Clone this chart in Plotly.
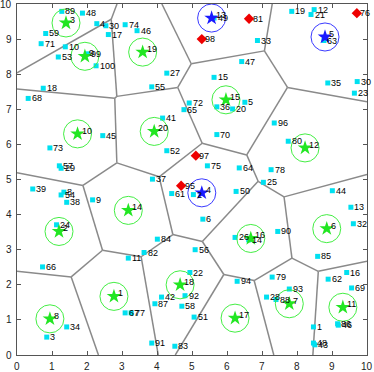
import numpy as np
import plotly.graph_objects as go

# ---------------- data ----------------
# cluster centres (green stars) and highlighted centres (blue stars)
green_labels = ["3", "9", "19", "15", "10", "20", "12", "14", "2", "16", "6", "18", "1", "8", "17", "7", "11"]
green_x = [1.40, 1.94, 3.59, 5.97, 1.73, 3.92, 8.23, 3.18, 1.20, 6.68, 8.85, 4.66, 2.77, 0.94, 6.23, 7.78, 9.31]
green_y = [9.46, 8.51, 8.63, 7.27, 6.30, 6.37, 5.90, 4.12, 3.52, 3.32, 3.60, 2.00, 1.67, 1.03, 1.05, 1.46, 1.36]

blue_labels = ["13", "4", "5"]
blue_x = [5.56, 5.28, 8.80]
blue_y = [9.60, 4.62, 9.06]

# data points (cyan squares)
pt_labels = ["89", "48", "59", "71", "10", "53", "99", "100", "18", "68",
             "4", "30", "17", "74", "46", "27", "55", "49", "47", "15",
             "72", "65", "36", "20", "5", "41", "19", "12", "21", "33",
             "63", "35", "30", "23", "96", "45", "73", "57", "29", "39",
             "8", "54", "38", "9", "24", "70", "52", "75", "64", "37",
             "61", "2", "50", "6", "84", "26", "14", "90", "80", "78",
             "25", "44", "13", "32", "66", "11", "34", "3", "67", "77",
             "82", "56", "22", "92", "42", "87", "58", "51", "91", "83",
             "94", "85", "79", "16", "62", "69", "93", "28", "88", "86",
             "46", "1", "48", "43"]
pt_x = [1.28, 1.87, 0.82, 0.69, 1.38, 1.18, 2.01, 2.26, 0.75, 0.32,
        2.28, 2.54, 2.61, 3.09, 3.43, 4.28, 3.85, 5.63, 6.42, 5.63,
        4.92, 4.77, 5.71, 6.16, 6.51, 4.16, 7.85, 8.49, 8.40, 6.87,
        8.77, 8.88, 9.72, 9.64, 7.35, 2.45, 0.94, 1.21, 1.26, 0.45,
        1.34, 1.26, 1.42, 2.16, 1.13, 5.71, 4.28, 5.44, 6.35, 3.87,
        4.42, 5.04, 6.26, 5.31, 4.01, 6.23, 6.62, 7.45, 7.75, 7.26,
        7.04, 9.01, 9.54, 9.61, 0.73, 3.18, 1.42, 0.85, 3.09, 3.26,
        3.63, 5.09, 4.94, 4.80, 4.13, 3.94, 4.71, 5.06, 3.85, 4.51,
        6.29, 8.59, 7.29, 9.42, 8.89, 9.56, 7.78, 7.13, 7.40, 9.16,
        9.18, 8.47, 8.47, 8.51]
pt_y = [9.79, 9.74, 9.16, 8.87, 8.78, 8.49, 8.58, 8.24, 7.60, 7.31,
        9.44, 9.38, 9.13, 9.41, 9.24, 8.03, 7.64, 9.60, 8.36, 7.91,
        7.18, 6.99, 7.07, 7.01, 7.20, 6.75, 9.79, 9.84, 9.70, 8.96,
        8.96, 7.75, 7.79, 7.46, 6.61, 6.25, 5.90, 5.39, 5.32, 4.73,
        4.64, 4.56, 4.35, 4.42, 3.71, 6.28, 5.82, 5.39, 5.33, 5.01,
        4.60, 4.57, 4.66, 3.87, 3.30, 3.35, 3.28, 3.52, 6.09, 5.28,
        4.92, 4.68, 4.21, 3.74, 2.51, 2.76, 0.80, 0.51, 1.20, 1.20,
        2.92, 3.00, 2.35, 1.69, 1.65, 1.46, 1.39, 1.08, 0.34, 0.25,
        2.10, 2.81, 2.22, 2.35, 2.16, 1.91, 1.88, 1.65, 1.58, 0.89,
        0.85, 0.80, 0.34, 0.29]

# outliers (red diamonds)
out_labels = ["98", "81", "76", "97", "95"]
out_x = [5.28, 6.63, 9.71, 5.11, 4.69]
out_y = [9.00, 9.58, 9.74, 5.68, 4.82]

x_ticks = list(range(0, 11))
y_ticks = list(range(0, 11))
radius = 0.4

# ---------------- voronoi (half-plane clipping) ----------------
sites = np.array(list(zip(green_x + blue_x, green_y + blue_y)))
box = [(0.0, 0.0), (10.0, 0.0), (10.0, 10.0), (0.0, 10.0)]


def clip(poly, m, n):
    out = []
    L = len(poly)
    for k in range(L):
        a = np.array(poly[k]); b = np.array(poly[(k + 1) % L])
        da = np.dot(a - m, n); db = np.dot(b - m, n)
        if da <= 0:
            out.append(tuple(a))
        if (da < 0 < db) or (db < 0 < da):
            t = da / (da - db)
            out.append(tuple(a + t * (b - a)))
    return out


edges = set()
for i, s in enumerate(sites):
    poly = box[:]
    for j, o in enumerate(sites):
        if i == j:
            continue
        poly = clip(poly, (s + o) / 2.0, o - s)
    L = len(poly)
    for k in range(L):
        a = poly[k]; b = poly[(k + 1) % L]
        on_border = False
        for c in (0.0, 10.0):
            if abs(a[0] - c) < 1e-9 and abs(b[0] - c) < 1e-9:
                on_border = True
            if abs(a[1] - c) < 1e-9 and abs(b[1] - c) < 1e-9:
                on_border = True
        if on_border:
            continue
        key = tuple(sorted([(round(a[0], 6), round(a[1], 6)), (round(b[0], 6), round(b[1], 6))]))
        edges.add(key)

vx, vy = [], []
for a, b in edges:
    vx += [a[0], b[0], None]
    vy += [a[1], b[1], None]

# ---------------- figure ----------------
fig = go.Figure()
fig.add_trace(go.Scatter(x=vx, y=vy, mode="lines",
                         line=dict(color="#8a8a8a", width=1.5), hoverinfo="skip"))
fig.add_trace(go.Scatter(x=pt_x, y=pt_y, mode="markers",
                         marker=dict(symbol="square", size=5, color="#00e0f0")))
fig.add_trace(go.Scatter(x=out_x, y=out_y, mode="markers",
                         marker=dict(symbol="diamond", size=8, color="#ee0000")))
fig.add_trace(go.Scatter(x=green_x, y=green_y, mode="markers",
                         marker=dict(symbol="star", size=11, color="#22e622")))
fig.add_trace(go.Scatter(x=blue_x, y=blue_y, mode="markers",
                         marker=dict(symbol="star", size=11, color="#1a1aff")))

shapes = []
for cx, cy in zip(green_x, green_y):
    shapes.append(dict(type="circle", xref="x", yref="y", x0=cx - radius, x1=cx + radius,
                       y0=cy - radius, y1=cy + radius, line=dict(color="#44ee44", width=1)))
for cx, cy in zip(blue_x, blue_y):
    shapes.append(dict(type="circle", xref="x", yref="y", x0=cx - radius, x1=cx + radius,
                       y0=cy - radius, y1=cy + radius, line=dict(color="#3a3aff", width=1)))

annots = []
lab_font = dict(family="Liberation Sans, Arial, sans-serif", size=9, color="black")
for lx, ly, t in zip(pt_x + out_x, pt_y + out_y, pt_labels + out_labels):
    annots.append(dict(x=lx, y=ly, text=t, showarrow=False, xanchor="left", yanchor="middle",
                       xshift=1.5, font=lab_font))
for lx, ly, t in zip(green_x + blue_x, green_y + blue_y, green_labels + blue_labels):
    annots.append(dict(x=lx, y=ly, text=t, showarrow=False, xanchor="left", yanchor="middle",
                       xshift=2, yshift=3, font=lab_font))

# tick labels (placed as text just outside the frame)
tick_font = dict(family="Liberation Sans, Arial, sans-serif", size=10, color="#222222")
for v in x_ticks:
    annots.append(dict(x=v, y=0, xref="x", yref="paper", text=str(v), showarrow=False,
                       xanchor="center", yanchor="top", yshift=-4, font=tick_font))
for v in y_ticks:
    annots.append(dict(x=0, y=v, xref="paper", yref="y", text=str(v), showarrow=False,
                       xanchor="right", yanchor="middle", xshift=-3, font=tick_font))

axis_common = dict(range=[0, 10], showgrid=False, zeroline=False, showline=True,
                   linecolor="#555555", linewidth=1, mirror="ticks", ticks="inside",
                   ticklen=4, tickcolor="#555555", showticklabels=False)
fig.update_xaxes(tickvals=x_ticks, **axis_common)
fig.update_yaxes(tickvals=y_ticks, **axis_common)

fig.update_layout(width=374, height=372, margin=dict(l=17, r=7, t=4, b=17, autoexpand=False),
                  plot_bgcolor="white", paper_bgcolor="white", showlegend=False,
                  hovermode=False, shapes=shapes, annotations=annots)
fig.write_html("out.html", config={"displayModeBar": False, "staticPlot": True},
               post_script="document.body.style.margin='0';document.body.style.overflow='hidden';")
